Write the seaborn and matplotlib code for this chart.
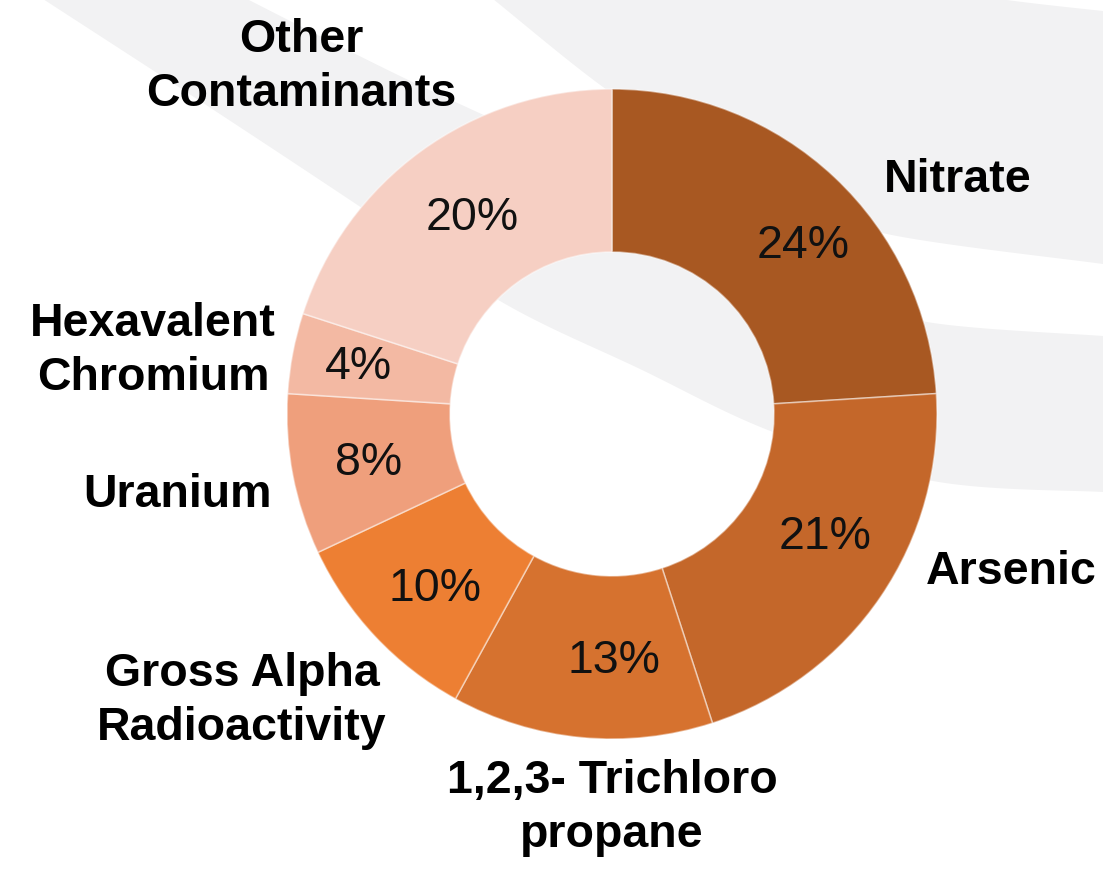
import numpy as np
import matplotlib
matplotlib.use("Agg")
import matplotlib.pyplot as plt
from matplotlib.patches import Polygon
import seaborn as sns

# Share of systems affected, by contaminant
categories = ["Nitrate", "Arsenic", "1,2,3- Trichloro\npropane",
              "Gross Alpha\nRadioactivity", "Uranium",
              "Hexavalent\nChromium", "Other\nContaminants"]
shares = [24, 21, 13, 10, 8, 4, 20]
slice_colors = ["#A85822", "#C4672A", "#D6722F", "#ED7F33",
                "#EF9F7C", "#F3B9A3", "#F6CFC3"]

sns.set_theme(style="white")
plt.rcParams["font.family"] = ["Liberation Sans", "DejaVu Sans"]

W, H = 1103, 870
fig = plt.figure(figsize=(W / 100, H / 100), dpi=100)
ax = fig.add_axes([0, 0, 1, 1])


def smooth(points, n=40):
    """Catmull-Rom curve through the given points."""
    p = np.asarray(points, float)
    p = np.vstack([2 * p[0] - p[1], p, 2 * p[-1] - p[-2]])
    t = np.linspace(0, 1, n, endpoint=False)[:, None]
    segs = []
    for i in range(1, len(p) - 2):
        p0, p1, p2, p3 = p[i - 1], p[i], p[i + 1], p[i + 2]
        segs.append(0.5 * (2 * p1 + (-p0 + p2) * t
                           + (2 * p0 - 5 * p1 + 4 * p2 - p3) * t ** 2
                           + (-p0 + 3 * p1 - 3 * p2 + p3) * t ** 3))
    segs.append(p[-2][None, :])
    return np.vstack(segs)


# Decorative swooshes in the background
band_grey = "#F2F2F3"
lower_a = [(-20, -41), (43, 0), (200, 102), (353, 203), (500, 302),
           (640, 370), (773, 433), (933, 482), (1103, 493), (1140, 494)]
upper_a = [(1140, 339), (1103, 337), (927, 323), (840, 292), (720, 235),
           (560, 152), (400, 77), (247, 0), (200, -25)]
lower_b = [(470, -18), (493, 0), (603, 88), (700, 150), (800, 200),
           (887, 235), (1103, 265), (1140, 270)]
upper_b = [(1140, 15), (1103, 12), (1000, 0), (960, -10)]

band_a = np.vstack([smooth(lower_a), smooth(upper_a)])
band_b = np.vstack([smooth(lower_b), smooth(upper_b)])
for poly in (band_a, band_b):
    ax.add_patch(Polygon(poly, closed=True, facecolor=band_grey,
                         edgecolor="none", zorder=0))

# Donut: y axis runs downward, so a counter-clockwise sweep from -90
# starts at twelve o'clock and runs clockwise on screen.
cx, cy, R, ring = 612, 415, 325, 163
wedges, _, pct_texts = ax.pie(
    shares,
    colors=sns.color_palette(slice_colors),
    startangle=-90,
    counterclock=True,
    radius=R,
    center=(cx, cy),
    autopct=lambda p: f"{p:.0f}%",
    pctdistance=0.748,
    wedgeprops=dict(width=ring, edgecolor=(1, 1, 1, 0.45), linewidth=1.2),
    textprops=dict(fontsize=33.5, color="#111111"),
)
for w in wedges:
    w.set_zorder(2)

# small shifts of the percentage labels inside their slices
pct_shift = [(25, 8), (12, -15), (25, 4), (0, 8), (-5, 2), (-15, -2), (3, 0)]
for t, (dx, dy) in zip(pct_texts, pct_shift):
    x, y = t.get_position()
    t.set_position((x + dx, y + dy))
    t.set_zorder(3)

ax.set_xlim(0, W)
ax.set_ylim(H, 0)
ax.set_aspect("equal", adjustable="box")
ax.axis("off")

# Category names around the ring
label_pos = [(958, 180), (1011, 572), (612, 808), (242, 701),
             (177, 495), (153, 351), (301, 67)]
for name, (x, y) in zip(categories, label_pos):
    ax.text(x, y, name, ha="center", va="center", fontsize=33.5,
            fontweight="bold", color="#000000", linespacing=1.32, zorder=4)

fig.savefig("out.png", dpi=100, facecolor="white")
